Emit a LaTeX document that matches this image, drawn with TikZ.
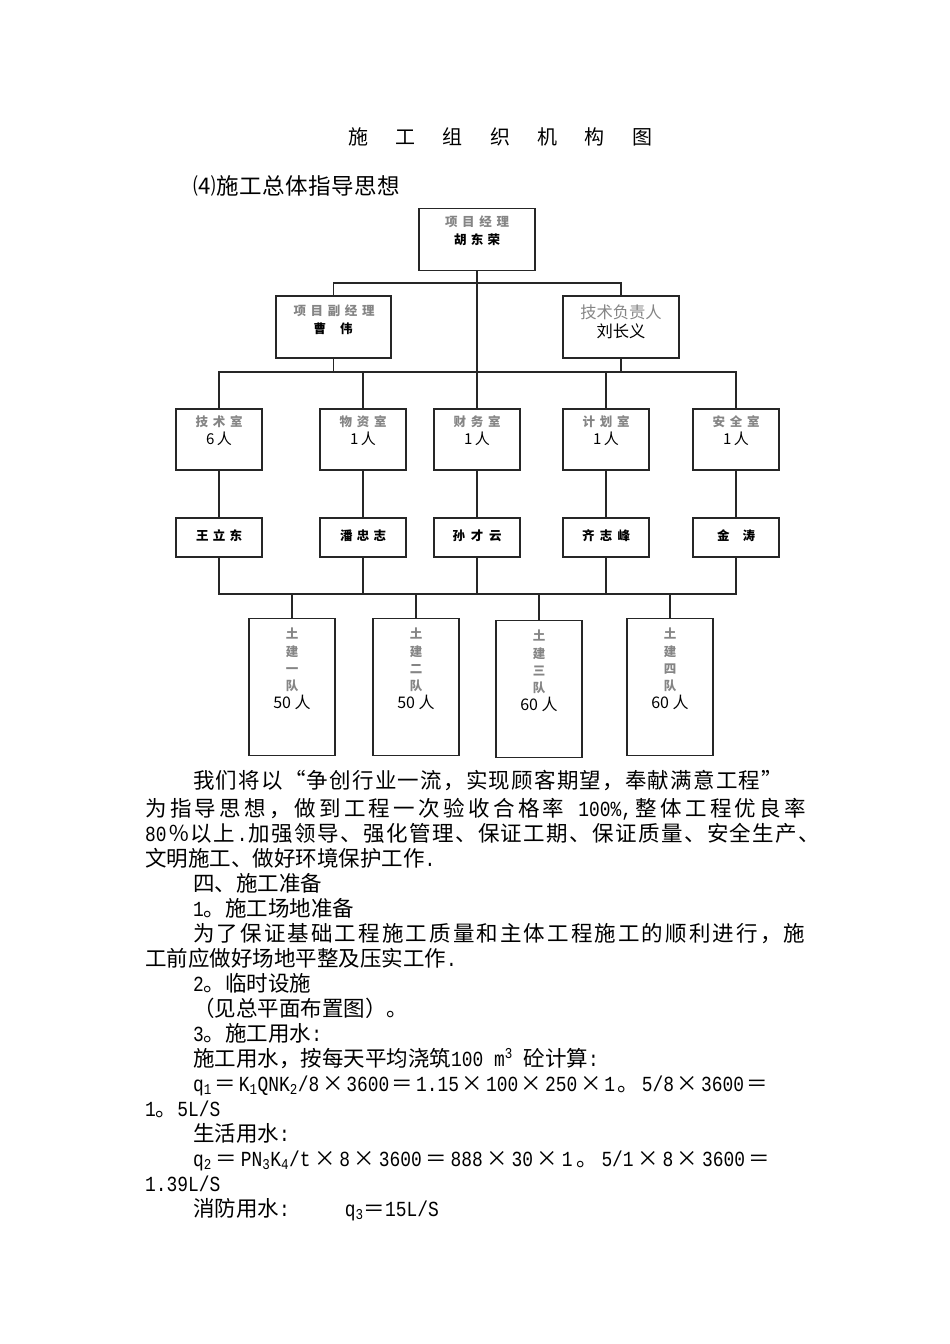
\documentclass[tikz,border=0pt]{standalone}
\usepackage{fontspec}
\setmainfont{Noto Sans CJK SC}
\newfontfamily\asc{Liberation Mono}[FakeStretch=0.833]
\usetikzlibrary{calc}
\definecolor{lbl}{HTML}{858585}
\def\sprA#1{{#1}\sprB}
\def\sprB#1{\ifx\sprEnd#1\else\hfil{#1}\expandafter\sprB\fi}
\newcommand\spr[2]{\makebox[#1pt][s]{\sprA#2\sprEnd}}
\newcommand\sprL[2]{\edef\sprTmp{\noexpand\spr{#1}{#2}}\sprTmp}
\newcommand\tm{\makebox[1em]{×}}
\tikzset{
  box/.style={draw=black!85, line width=1.3pt, rectangle, inner sep=0pt},
  conn/.style={draw=black!85, line width=1.1pt},
  glbl/.style={text=lbl, font=\fontsize{12.5}{14}\selectfont\bfseries, inner sep=0pt},
  blk/.style={text=black, font=\fontsize{12.5}{14}\selectfont\bfseries, inner sep=0pt},
  cnt/.style={text=black, font=\fontsize{15}{17}\selectfont, inner sep=0pt},
  para/.style={anchor=west, inner sep=0pt, font=\fontsize{21.5}{25}\selectfont, text height=18.9pt, text depth=2.6pt},
}
\begin{document}
\begin{tikzpicture}[x=1pt,y=-1pt]
\useasboundingbox (0,0) rectangle (950,1344);

% title
\node[inner sep=0pt, font=\fontsize{20}{22}\selectfont] (title) at (500,137) {\spr{304}{施工组织机构图}};
\node[para, font=\fontsize{22.5}{25}\selectfont] (head) at (193,186) {\spr{207}{⑷施工总体指导思想}};

% top level boxes
\node[box, minimum width=116pt, minimum height=62pt] (pm) at (477,239.5) {};
\node[box, minimum width=115pt, minimum height=62pt] (dpm) at (333.5,327) {};
\node[box, minimum width=116pt, minimum height=62pt] (tech) at (621,327) {};

\node[glbl] (pmA) at (477,222) {\spr{64}{项目经理}};
\node[blk] (pmB) at (477,240) {\spr{46}{胡东荣}};
\node[glbl] (dpmA) at (334,311) {\spr{81}{项目副经理}};
\node[blk] (dpmB) at (333,329) {\spr{39}{曹伟}};
\node[inner sep=0pt, text=lbl, font=\fontsize{16.3}{18}\selectfont] (techA) at (621,312) {技术负责人};
\node[inner sep=0pt, font=\fontsize{16.3}{18}\selectfont] (techB) at (621,331) {刘长义};

% departments
\foreach \i/\x/\lab/\n in {1/219/技术室/6, 2/363/物资室/1, 3/477/财务室/1, 4/606/计划室/1, 5/736/安全室/1}{
  \node[box, minimum width=86pt, minimum height=61pt] (d\i) at (\x,439.5) {};
  \node[glbl] (dl\i) at (\x,422) {\sprL{47}{\lab}};
  \node[cnt] (dc\i) at (\x,438.5) {\n\,人};
}

% names
\foreach \i/\x/\lab/\w in {1/219/王立东/46, 2/363/潘忠志/46, 3/477/孙才云/49, 4/606/齐志峰/48, 5/736/金涛/38}{
  \node[box, minimum width=86pt, minimum height=39pt] (n\i) at (\x,537.5) {};
  \node[blk] (nl\i) at (\x,535.5) {\sprL{\w}{\lab}};
}

% teams
\foreach \i/\x/\y/\num/\n in {1/292/687/一/50, 2/416/687/二/50, 3/539/689/三/60, 4/670/687/四/60}{
  \node[box, minimum width=86pt, minimum height=137pt] (t\i) at (\x,\y) {};
  \node[glbl, align=center, font=\fontsize{12.5}{17.3}\selectfont\bfseries] (tl\i) at (\x,\y-27) {土\\建\\\num\\队};
  \node[cnt, font=\fontsize{16}{18}\selectfont] (tc\i) at (\x,\y+15.5) {\n\ 人};
}

% junction coordinates
\coordinate (b1) at (477,283);
\coordinate (b2) at (477,372);
\coordinate (b3) at (477,594);

% connectors
\draw[conn] (dpm.north) |- (b1) -| (tech.north);
\draw[conn] (pm.south) -- (b2);
\draw[conn] (dpm.south) |- (b2);
\draw[conn] (tech.south) |- (b2);
\foreach \i in {1,2,4,5}{ \draw[conn] (d\i.north) |- (b2); }
\draw[conn] (b2) -- (d3.north);
\foreach \i in {1,...,5}{ \draw[conn] (d\i.south) -- (n\i.north); }
\foreach \i in {1,2,4,5}{ \draw[conn] (n\i.south) |- (b3); }
\draw[conn] (n3.south) -- (b3);
\foreach \i in {1,...,4}{ \draw[conn] (t\i.north) |- (b3); }

% paragraph text
\node[para] (p1) at (193,780) {\spr{590}{我们将以“争创行业一流，实现顾客期望，奉献满意工程”}};
\node[para] (p2) at (145,808) {\spr{661}{为指导思想，做到工程一次验收合格率{\asc\ 100\%,}整体工程优良率}};
\node[para] (p3) at (145,833) {\spr{675}{{\asc 80}％以上{\asc .}加强领导、强化管理、保证工期、保证质量、安全生产、}};
\node[para] (p4) at (145,858) {文明施工、做好环境保护工作{\asc .}};
\node[para] (p5) at (193,883) {四、施工准备};
\node[para] (p6) at (193,908) {{\asc 1}。施工场地准备};
\node[para] (p7) at (193,933) {\spr{612}{为了保证基础工程施工质量和主体工程施工的顺利进行，施}};
\node[para] (p8) at (145,958) {工前应做好场地平整及压实工作{\asc .}};
\node[para] (p9) at (193,983) {{\asc 2}。临时设施};
\node[para] (p10) at (193,1008) {（见总平面布置图）。};
\node[para] (p11) at (193,1033) {{\asc 3}。施工用水{\asc :}};
\node[para] (p12) at (193,1058) {施工用水，按每天平均浇筑{\asc 100 m\textsuperscript{3}\ }砼计算{\asc :}};
\node[para] (p13) at (193,1083) {\spr{575}{{\asc q\textsubscript{1}}＝{\asc K\textsubscript{1}QNK\textsubscript{2}/8}\tm{\asc 3600}＝{\asc 1.15}\tm{\asc 100}\tm{\asc 250}\tm{\asc 1}。{\asc 5/8}\tm{\asc 3600}＝}};
\node[para] (p14) at (145,1108) {{\asc 1}。{\asc 5L/S}};
\node[para] (p15) at (193,1133) {生活用水{\asc :}};
\node[para] (p16) at (193,1158) {\spr{577}{{\asc q\textsubscript{2}}＝{\asc PN\textsubscript{3}K\textsubscript{4}/t}\tm{\asc 8}\tm{\asc 3600}＝{\asc 888}\tm{\asc 30}\tm{\asc 1}。{\asc 5/1}\tm{\asc 8}\tm{\asc 3600}＝}};
\node[para] (p17) at (145,1183) {{\asc 1.39L/S}};
\node[para] (p18) at (193,1208) {消防用水{\asc :}\hspace{55pt}{\asc q\textsubscript{3}}＝{\asc 15L/S}};
\end{tikzpicture}
\end{document}
